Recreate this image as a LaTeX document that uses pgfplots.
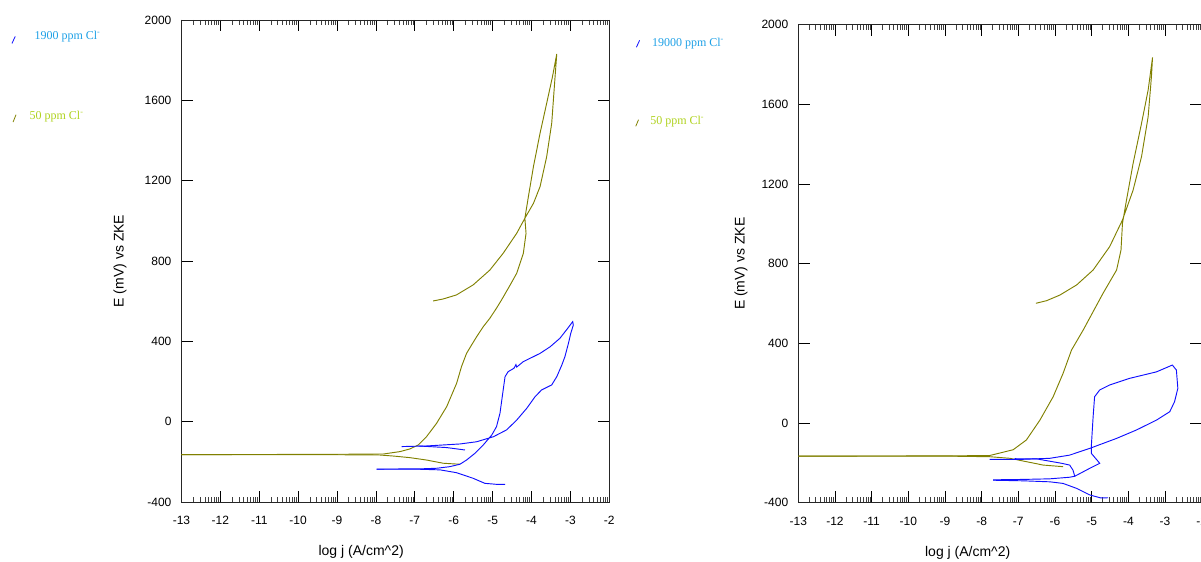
\documentclass[border=0pt]{standalone}
\usepackage{fontspec}
\setmainfont{Liberation Sans}
\newfontfamily\seriffont{Liberation Serif}
\usepackage{pgfplots}
\pgfplotsset{compat=1.18}

\definecolor{curveblue}{RGB}{15,15,255}
\definecolor{curveolive}{RGB}{128,128,0}
\definecolor{legblue}{RGB}{30,160,230}
\definecolor{leggreen}{RGB}{175,210,30}

\gdef\minorlist{-13}
\foreach \d in {-13,...,-3}{%
  \foreach \k in {0.30103,0.47712,0.60206,0.69897,0.77815,0.84510,0.90309,0.95424}{%
    \pgfmathparse{\d+\k}%
    \xdef\minorlist{\minorlist,\pgfmathresult}%
  }%
}

\pgfplotsset{
  mystyle/.style={
    scale only axis,
    xmin=-13, xmax=-2, ymin=-400, ymax=2000,
    xtick={-13,-12,...,-2},
    ytick={-400,0,400,800,1200,1600,2000},
    minor xtick=\minorlist,
    tick align=inside,
    xtick pos=both, ytick pos=both,
    xticklabel pos=lower, yticklabel pos=left,
    major tick length=8.5pt, minor tick length=4pt,
    tick style={black, line width=0.6pt},
    minor tick style={black!75, line width=0.5pt},
    axis line style={black!85, line width=0.6pt},
    ticklabel style={font=\fontsize{9}{10}\selectfont},
    /pgf/number format/assume math mode=true,
    /pgf/number format/1000 sep={},
    xticklabel style={yshift=-7pt},
    yticklabel style={xshift=-4pt},
    xlabel={log j (A/cm\textasciicircum 2)},
    ylabel={E (mV) vs ZKE},
    label style={font=\fontsize{10.5}{12}\selectfont},
    clip=false,
  },
  blueline/.style={curveblue, line width=0.7pt, no markers},
  oliveline/.style={curveolive, line width=0.7pt, no markers},
}

\begin{document}
\begin{tikzpicture}
\path[use as bounding box] (0pt,0pt) rectangle (900.75pt,420.75pt);
\clip (0pt,0pt) rectangle (900.75pt,420.75pt);

% ---------------- Left panel ----------------
\begin{axis}[mystyle,
  at={(136.1pt,44.25pt)}, anchor=south west,
  width=320.85pt, height=361.5pt,
  xlabel style={at={(axis description cs:0.42,-0.1037)}, anchor=center},
  ylabel style={at={(axis description cs:-0.1434,0.5)}, anchor=center},
]
% 50 ppm cathodic
\addplot[oliveline] coordinates {
(-5.84,-212) (-6.27,-207) (-6.70,-191) (-7.13,-179) (-7.56,-171) (-7.90,-166) (-9.5,-164) (-13,-164)
};
% 50 ppm anodic + reverse
\addplot[oliveline] coordinates {
(-13,-164) (-9.5,-163) (-7.81,-161) (-7.38,-149) (-7.13,-136) (-6.91,-116) (-6.70,-75) (-6.44,-8)
(-6.18,75) (-5.925,191) (-5.80,274) (-5.67,340) (-5.54,382) (-5.41,423) (-5.24,473) (-5.07,515)
(-4.90,565) (-4.77,606) (-4.55,680) (-4.38,739) (-4.21,838)
(-4.14,938) (-4.17,1013) (-4.08,1120) (-3.95,1270) (-3.78,1436) (-3.61,1585) (-3.46,1718) (-3.35,1831)
(-3.40,1701) (-3.48,1486) (-3.61,1319) (-3.78,1170) (-3.95,1087) (-4.17,1013) (-4.38,938) (-4.73,838)
(-5.07,755) (-5.50,681) (-5.93,631) (-6.27,611) (-6.53,601)
};
% 1900 ppm cathodic
\addplot[blueline] coordinates {
(-4.68,-312) (-4.90,-312) (-5.20,-307) (-5.50,-282) (-5.93,-254) (-6.35,-240) (-6.87,-237) (-7.98,-237)
};
% 1900 ppm anodic loop
\addplot[blueline] coordinates {
(-7.98,-236) (-6.87,-235) (-6.44,-232) (-6.10,-224) (-5.84,-212) (-5.67,-191) (-5.45,-157) (-5.24,-116)
(-5.02,-66) (-4.90,-25) (-4.81,42) (-4.74,141) (-4.68,224) (-4.60,249) (-4.45,266) (-4.40,284)
(-4.38,272) (-4.21,299) (-3.78,340) (-3.52,373) (-3.27,415) (-3.10,457) (-2.94,498) (-2.925,481)
(-2.99,440) (-3.05,390) (-3.14,324) (-3.22,282) (-3.35,224) (-3.48,183) (-3.74,158) (-3.91,124)
(-4.12,67) (-4.38,8) (-4.64,-41) (-4.98,-75) (-5.41,-100) (-5.84,-111) (-6.70,-121) (-7.34,-124)
};
\addplot[blueline] coordinates {
(-6.90,-121) (-6.18,-129) (-5.71,-141)
};
\end{axis}

% ---------------- Right panel ----------------
\begin{axis}[mystyle,
  at={(598.7pt,43.7pt)}, anchor=south west,
  width=302.55pt, height=358.65pt,
  xlabel style={at={(axis description cs:0.42,-0.1046)}, anchor=center},
  ylabel style={at={(axis description cs:-0.142,0.5)}, anchor=center},
]
\addplot[oliveline] coordinates {
(-5.78,-219) (-6.32,-211) (-6.78,-194) (-7.23,-177) (-7.78,-169) (-9,-166) (-13,-166)
};
\addplot[oliveline] coordinates {
(-13,-166) (-9,-165) (-7.78,-163) (-7.14,-134) (-6.78,-85) (-6.41,15) (-6.05,132) (-5.78,249)
(-5.55,366) (-5.23,467) (-4.69,651) (-4.32,768) (-4.20,868) (-4.16,1002) (-4.05,1119) (-3.87,1303)
(-3.64,1504) (-3.46,1671) (-3.34,1835)
(-3.37,1738) (-3.46,1537) (-3.64,1337) (-3.87,1169) (-4.16,1019) (-4.51,885) (-4.96,768) (-5.41,693)
(-5.87,642) (-6.23,614) (-6.52,601)
};
\addplot[blueline] coordinates {
(-4.55,-375) (-4.75,-376) (-5.05,-361) (-5.41,-328) (-5.78,-303) (-6.14,-295) (-6.87,-290) (-7.69,-287)
};
\addplot[blueline] coordinates {
(-7.69,-285) (-6.87,-283) (-6.14,-280) (-5.60,-272) (-5.46,-267) (-5.05,-227) (-4.78,-202) (-5.01,-152)
(-5.01,-119) (-4.96,32) (-4.92,132) (-4.78,166) (-4.51,191) (-3.97,224) (-3.23,257) (-2.80,291)
(-2.69,266) (-2.65,174) (-2.74,107) (-2.87,57) (-3.23,15) (-3.78,-35) (-4.32,-77) (-5.05,-127)
(-5.60,-161) (-6.14,-177) (-6.87,-182) (-7.78,-182)
};
\addplot[blueline] coordinates {
(-7.10,-179) (-6.50,-180) (-5.82,-202) (-5.60,-211) (-5.51,-236) (-5.46,-268)
};
\end{axis}

% ---------------- Legends ----------------
\begin{scope}[font=\seriffont\fontsize{9}{10}\selectfont]
\draw[curveblue, line width=0.6pt] (9.0pt,388.2pt) -- (11.4pt,393.4pt);
\node[anchor=base west, inner sep=0pt, text=legblue] at (25.7pt,390.75pt) {1900 ppm Cl\textsuperscript{-}};
\draw[curveolive, line width=0.6pt] (9.8pt,329.2pt) -- (12.0pt,334.7pt);
\node[anchor=base west, inner sep=0pt, text=leggreen] at (22pt,331.1pt) {50 ppm Cl\textsuperscript{-}};

\draw[curveblue, line width=0.6pt] (477.3pt,385.3pt) -- (479.7pt,390.5pt);
\node[anchor=base west, inner sep=0pt, text=legblue] at (488.8pt,385.7pt) {19000 ppm Cl\textsuperscript{-}};
\draw[curveolive, line width=0.6pt] (476.8pt,326.0pt) -- (478.9pt,331.0pt);
\node[anchor=base west, inner sep=0pt, text=leggreen] at (487.5pt,327pt) {50 ppm Cl\textsuperscript{-}};
\end{scope}
\end{tikzpicture}
\end{document}
